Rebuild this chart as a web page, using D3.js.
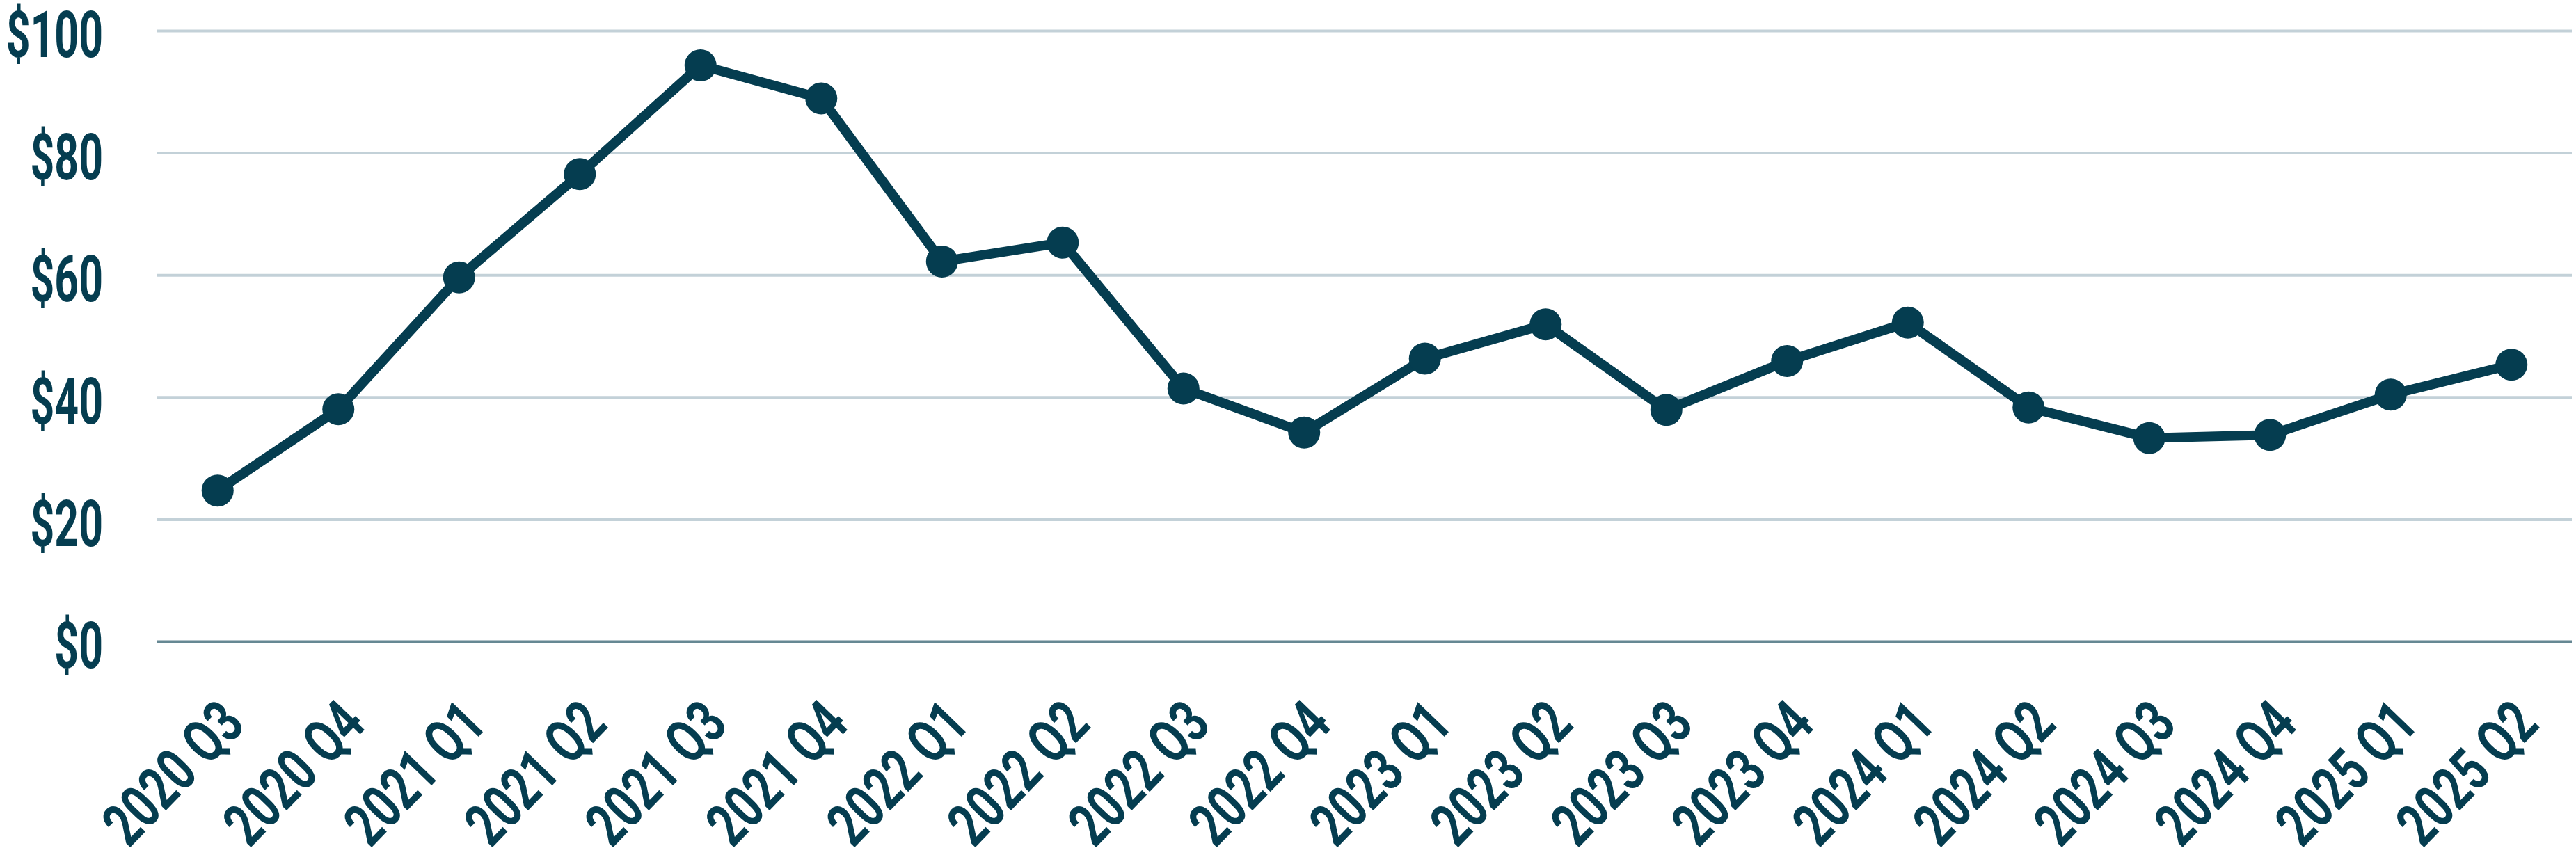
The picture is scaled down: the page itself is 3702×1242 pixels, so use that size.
<!DOCTYPE html>
<html>
<head>
<meta charset="utf-8">
<script src="https://cdn.jsdelivr.net/npm/d3@7"></script>
<style>
  html, body { margin: 0; padding: 0; background: #ffffff; }
  svg { display: block; }
  text { font-family: Roboto, "Noto Sans", sans-serif; font-weight: 700; fill: #053d50; }
</style>
</head>
<body>
<svg id="chart" width="3702" height="1242"></svg>
<script>
const categories = ["2020 Q3","2020 Q4","2021 Q1","2021 Q2","2021 Q3","2021 Q4","2022 Q1","2022 Q2","2022 Q3","2022 Q4","2023 Q1","2023 Q2","2023 Q3","2023 Q4","2024 Q1","2024 Q2","2024 Q3","2024 Q4","2025 Q1","2025 Q2"];
const values = [24.7, 38.0, 59.6, 76.5, 94.3, 88.9, 62.2, 65.3, 41.4, 34.2, 46.3, 51.9, 37.9, 45.9, 52.2, 38.3, 33.3, 33.8, 40.4, 45.3];
const yTicks = [0, 20, 40, 60, 80, 100];

const plotLeft = 226, plotRight = 3696, plotTop = 44, plotBottom = 922;
const ink = "#053d50";

const svg = d3.select("#chart");

const x = d3.scalePoint().domain(categories).range([plotLeft, plotRight]).padding(0.5);
const y = d3.scaleLinear().domain([0, 100]).range([plotBottom, plotTop]);

// gridlines
const grid = svg.append("g").attr("transform", `translate(${plotLeft},0)`)
  .call(d3.axisLeft(y).tickValues(yTicks).tickSize(-(plotRight - plotLeft)).tickFormat(""));
grid.select(".domain").remove();
grid.selectAll(".tick line")
  .attr("stroke", d => d === 0 ? "#668893" : "#c3d1d8")
  .attr("stroke-width", 4);

// y labels
const yAxis = svg.append("g").attr("transform", `translate(${plotLeft},0)`)
  .call(d3.axisLeft(y).tickValues(yTicks).tickSize(0).tickFormat(d => "$" + d));
yAxis.select(".domain").remove();
yAxis.selectAll(".tick text")
  .attr("x", null)
  .attr("dy", "0.41em")
  .attr("text-anchor", "end")
  .attr("font-size", 92)
  .attr("transform", "translate(-78,0) scale(0.66,1)")
  .style("fill", ink);

// x labels
const xAxis = svg.append("g").attr("transform", `translate(0,${plotBottom})`)
  .call(d3.axisBottom(x).tickSize(0));
xAxis.select(".domain").remove();
xAxis.selectAll(".tick text")
  .attr("y", null)
  .attr("dy", null)
  .attr("text-anchor", "end")
  .attr("font-size", 87)
  .attr("transform", "translate(42,122) rotate(-46) scale(0.74,1)")
  .style("fill", ink);

// line
const line = d3.line().x((d, i) => x(categories[i])).y(d => y(d));
svg.append("path")
  .datum(values)
  .attr("d", line)
  .attr("fill", "none")
  .attr("stroke", ink)
  .attr("stroke-width", 14)
  .attr("stroke-linejoin", "round");

// markers
svg.append("g").selectAll("circle")
  .data(values)
  .join("circle")
  .attr("cx", (d, i) => x(categories[i]))
  .attr("cy", d => y(d))
  .attr("r", 23)
  .attr("fill", ink);
</script>
</body>
</html>
